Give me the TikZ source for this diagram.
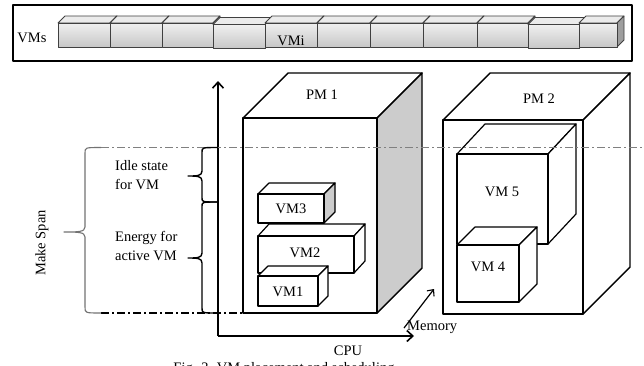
\documentclass[tikz,border=0pt]{standalone}
\usepackage{fontspec}
\setmainfont{Liberation Serif}
\usetikzlibrary{arrows.meta}

% \cuboid{x}{y}{w}{h}{dx}{dy}{front opts}{top opts}{side opts}
% (x,y) is the front top-left corner, y grows downwards; the back face is shifted by (dx,-dy)
\newcommand\cuboid[9]{%
  \draw[#8] (#1,#2) -- ++(#5,-#6) -- ++(#3,0) -- ++(-#5,#6) -- cycle;
  \draw[#9] (#1+#3,#2) -- ++(#5,-#6) -- ++(0,#4) -- ++(-#5,#6) -- cycle;
  \draw[#7] (#1,#2) rectangle ++(#3,#4);
}

\begin{document}
\begin{tikzpicture}[x=1pt,y=-1pt,line join=round,
  lbl/.style={inner sep=0pt,font=\fontsize{14.5}{16}\selectfont},
  axisline/.style={line width=1.8pt,-{Straight Barb[length=6pt,width=11pt,line width=1.6pt]}},
  pmline/.style={line width=1.4pt},
  vmline/.style={line width=1.2pt},
  dashdot/.style={line width=1.1pt,dash pattern=on 8pt off 3pt on 2pt off 3pt},
  barline/.style={line width=0.8pt,draw=black!75}]
\clip (0,0) rectangle (644,365);
\fill[white] (0,0) rectangle (644,365);

% ---- row of VMs ----
\draw[line width=2pt] (13,4.5) rectangle (632,60.5);
\node[lbl] (vms) at (32,38) {VMs};
\foreach \x/\w/\s in {58/52/0,110/52/0,162/51/0,213/52/1.5,265/52/0,317/53/0,370/53/0,423/54/0,477/51/0,528/51/1.5,579/38/0}{
  \cuboid{\x}{23+\s}{\w}{24}{7}{7}
    {barline,top color=black!6,bottom color=black!22}
    {barline,fill=black!8}
    {barline,fill=black!38}
}
\node[lbl] (vmi) at (291,41) {VMi};

% ---- physical machine 1 ----
\cuboid{243}{118}{134}{195}{45}{45}{pmline,fill=white}{pmline,fill=white}{pmline,fill=black!20}
\node[lbl] (pm1) at (322,95) {PM 1};
\cuboid{258}{194}{66}{29}{11}{11}{vmline,fill=white}{vmline,fill=white}{vmline,fill=black!20}
\node[lbl] (vm3) at (291,209) {VM3};
\cuboid{258}{236}{96}{37}{11}{12}{vmline,fill=white}{vmline,fill=white}{vmline,fill=white}
\node[lbl] (vm2) at (305,253) {VM2};
\cuboid{258}{276}{60}{30}{10}{10}{vmline,fill=white}{vmline,fill=white}{vmline,fill=white}
\node[lbl] (vm1) at (288,292) {VM1};

% ---- physical machine 2 ----
\cuboid{443}{120}{140}{194}{47}{47}{pmline,fill=white}{pmline,fill=white}{pmline,fill=white}
\node[lbl] (pm2) at (539,99) {PM 2};
\cuboid{457}{154}{91}{90}{28}{30}{vmline,fill=white}{vmline,fill=white}{vmline,fill=white}
\node[lbl] (vm5) at (502,192) {VM 5};
\cuboid{457}{245}{62}{57}{18}{18}{vmline,fill=white}{vmline,fill=white}{vmline,fill=white}
\node[lbl] (vm4) at (488,267) {VM 4};

% ---- axes ----
\coordinate (origin) at (218,336);
\coordinate (ytip) at (218,81);
\coordinate (xtip) at (414,336);
\coordinate (mstart) at (404,328);
\coordinate (mtip) at (434,289);
\draw[axisline] (origin) -- (ytip);
\draw[axisline] (origin) -- (xtip);
\draw[line width=1.2pt,-{Straight Barb[length=5pt,width=9pt,line width=1.1pt]}] (mstart) -- (mtip);
\node[lbl] (cpu) at (348,351) {CPU};
\node[lbl,anchor=west] (mem) at (407,327) {Memory};

% ---- time levels ----
\draw[dashdot,draw=black!50] (101,147.5) -- (644,147.5);
\draw[dashdot] (101,313) -- (247,313);

% ---- braces ----
\draw[line width=1.1pt,draw=black!55]
  (101,147.5) .. controls (85,147.5) .. (85,153) -- (85,227)
  .. controls (85,232) and (78,232) .. (64,232)
  .. controls (78,232) and (85,232) .. (85,237) -- (85,307)
  .. controls (85,313) .. (101,313);
\draw[line width=1.4pt]
  (218,147.5) .. controls (202,147.5) .. (202,152) -- (202,171)
  .. controls (202,176) and (197,176) .. (188,176)
  .. controls (197,176) and (202,176) .. (202,181) -- (202,198)
  .. controls (202,202) .. (218,202);
\draw[line width=1.4pt]
  (218,202) .. controls (202,202) .. (202,206) -- (202,253)
  .. controls (202,258) and (197,258) .. (188,258)
  .. controls (197,258) and (202,258) .. (202,263) -- (202,308)
  .. controls (202,313) .. (218,313);

% ---- labels ----
\node[lbl,anchor=west] (idle1) at (115,166) {Idle state};
\node[lbl,anchor=west] (idle2) at (115,184) {for VM};
\node[lbl,anchor=west] (act1) at (115,238) {Energy for};
\node[lbl,anchor=west] (act2) at (115,256) {active VM};
\node[lbl,rotate=90] (span) at (42,243) {Make Span};

% ---- caption, running off the lower edge ----
\node[lbl,anchor=base] (cap) at (284,372.5) {Fig. 3. VM placement and scheduling};
\end{tikzpicture}
\end{document}
